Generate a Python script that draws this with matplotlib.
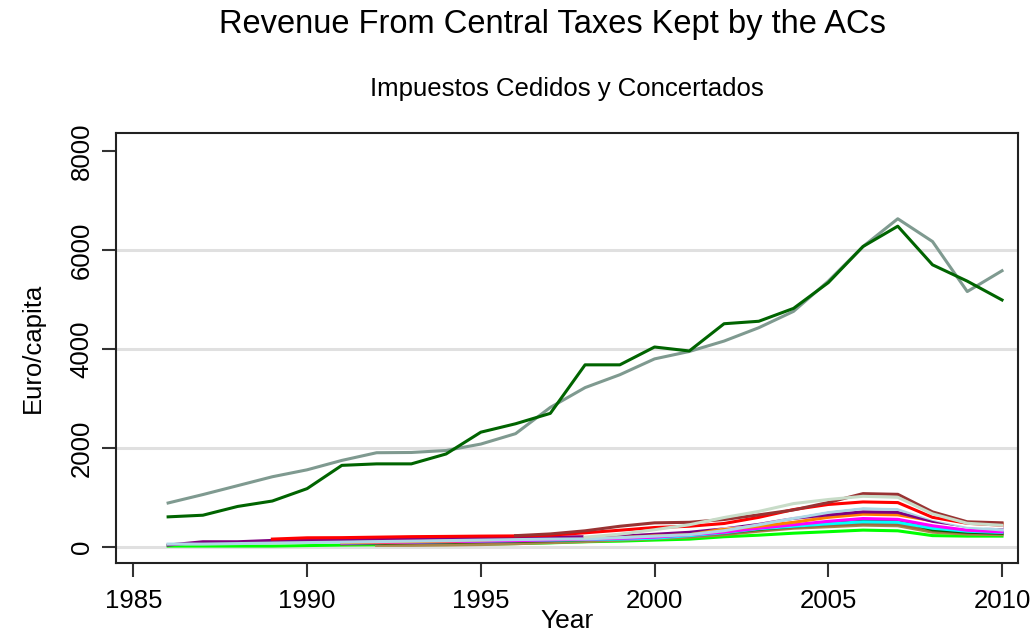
import numpy as np
import matplotlib
matplotlib.use("Agg")
import matplotlib.pyplot as plt

nan = np.nan
years = list(range(1986, 2011))

# Two foral regions (large values)
grey_series = [890, 1060, 1240, 1420, 1560, 1750, 1905, 1910, 1950, 2080, 2290, 2820, 3220, 3480,
               3800, 3950, 4160, 4430, 4760, 5370, 6070, 6630, 6170, 5160, 5580]
dkgreen_big = [610, 643, 820, 930, 1180, 1650, 1680, 1680, 1880, 2320, 2490, 2700, 3680, 3680,
               4040, 3960, 4510, 4560, 4820, 5340, 6070, 6480, 5700, 5370, 4990]

# Common-regime regions (small values)
lime_s = [20, 20, 20, 20, 30, 40, 45, 50, 55, 60, 70, 85, 107, 120, 141, 160, 208, 240, 280, 310, 342, 328, 231, 221, 221]
khaki_s = [nan, nan, nan, nan, nan, nan, 34, 34, 40, 50, 67, 90, 110, 140, 170, 200, 250, 320, 380, 410, 442, 430, 300, 262, 250]
sienna_s = [nan, nan, nan, nan, nan, 60, 70, 80, 90, 100, 110, 125, 140, 160, 190, 220, 270, 340, 400, 440, 470, 460, 330, 285, 275]
dkgreen_s = [nan, nan, nan, nan, nan, 70, 80, 90, 100, 110, 120, 130, 150, 170, 200, 240, 290, 360, 420, 480, 520, 550, 350, 300, 280]
cyan_s = [nan, nan, nan, nan, nan, 80, 90, 100, 110, 120, 130, 140, 150, 160, 180, 230, 289, 370, 420, 470, 509, 500, 380, 320, 295]
magenta_s = [nan, nan, nan, nan, nan, 80, 90, 100, 110, 120, 130, 145, 160, 175, 200, 250, 300, 380, 450, 520, 576, 560, 430, 340, 305]
orange_s = [nan, nan, nan, nan, nan, 90, 100, 110, 120, 140, 170, 190, 200, 220, 260, 300, 355, 420, 500, 600, 663, 650, 530, 485, 470]
purple_s = [40, 107, 107, 134, 134, 150, 160, 170, 180, 190, 195, 200, 208, 250, 288, 310, 429, 480, 580, 650, 710, 700, 520, 420, 389]
ltblue_s = [60, 60, 70, 80, 90, 100, 110, 120, 130, 140, 150, 160, 165, 190, 220, 250, 330, 450, 580, 700, 777, 760, 560, 400, 345]
white_s = [nan, nan, nan, nan, nan, nan, nan, nan, nan, nan, nan, nan, 240, 280, 320, 360, 430, 520, 640, 760, 838, 820, 580, 440, 410]
red_s = [nan, nan, nan, 161, 187, 190, 200, 210, 215, 221, 225, 240, 288, 340, 395, 420, 476, 600, 757, 860, 911, 898, 600, 480, 442]
maroon_s = [nan, nan, nan, nan, nan, nan, nan, nan, nan, nan, 230, 265, 328, 420, 489, 500, 556, 650, 750, 900, 1079, 1065, 710, 510, 489]
eltgreen_s = [nan, nan, nan, nan, nan, nan, nan, nan, nan, nan, nan, nan, 200, 260, 350, 450, 596, 720, 878, 960, 1025, 1005, 670, 480, 440]

small_series = [
    (lime_s, "#00ff00"),
    (khaki_s, "#a8884c"),
    (sienna_s, "#9c6b3c"),
    (dkgreen_s, "#006400"),
    (cyan_s, "#00ffff"),
    (magenta_s, "#ff00ff"),
    (orange_s, "#ff8000"),
    (purple_s, "#800080"),
    (ltblue_s, "#add8e6"),
    (white_s, "#ffffff"),
    (red_s, "#ff0000"),
    (maroon_s, "#993333"),
    (eltgreen_s, "#c8dcc8"),
]

title = "Revenue From Central Taxes Kept by the ACs"
subtitle = "Impuestos Cedidos y Concertados"
xlabel = "Year"
ylabel = "Euro/capita"
xticks = [1985, 1990, 1995, 2000, 2005, 2010]
yticks = [0, 2000, 4000, 6000, 8000]

plt.rcParams['font.family'] = ['Liberation Sans', 'DejaVu Sans']

fig = plt.figure(figsize=(10.35, 6.37), dpi=100)
ax = fig.add_axes([116 / 1035, 74 / 637, 902 / 1035, 430 / 637])

for yv in [0, 2000, 4000, 6000]:
    ax.axhline(yv, color="#e0e0e0", lw=2.2, zorder=0)

for vals, col in small_series:
    ax.plot(years, vals, color=col, lw=2.2, solid_joinstyle="miter")

ax.plot(years, grey_series, color="#7f9a90", lw=2.2)
ax.plot(years, dkgreen_big, color="#006400", lw=2.2)

ax.set_xlim(1984.5, 2010.46)
ax.set_ylim(-322, 8362)
ax.set_xticks(xticks)
ax.set_yticks(yticks)
ax.set_yticklabels([str(v) for v in yticks], rotation=90, va="center")
ax.tick_params(axis="both", direction="out", length=10, width=1.5, colors="#333333",
               labelcolor="black", labelsize=18.5)
ax.tick_params(axis="x", pad=9)
ax.tick_params(axis="y", pad=6)
for s in ax.spines.values():
    s.set_color("#222222")
    s.set_linewidth(1.5)

ax.set_xlabel(xlabel, fontsize=19, labelpad=-3)
ax.set_ylabel(ylabel, fontsize=18.5, labelpad=18)

fig.text(0.534, 1 - 25 / 637, title, ha="center", va="center", fontsize=23.5)
fig.text(0.548, 1 - 89 / 637, subtitle, ha="center", va="center", fontsize=18.5)

fig.savefig("out.png", dpi=100, facecolor="white")
